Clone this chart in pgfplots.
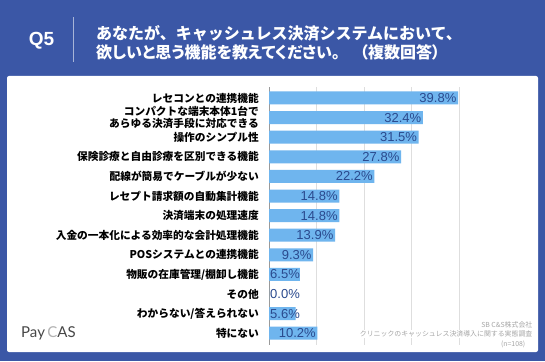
\documentclass[border=0pt]{standalone}
\usepackage{pgfplots}
\usepackage{pgfplotstable}
\pgfplotsset{compat=1.18}
\usepackage{fontspec}
\setmainfont{Liberation Sans}
\newfontfamily\jp{Noto Sans CJK JP}
\newfontfamily\jpp{Noto Sans CJK JP}[RawFeature=+palt]
\newfontfamily\logo{Lato}
\definecolor{bgblue}{HTML}{3B57A6}
\definecolor{barblue}{HTML}{6FB5EE}
\definecolor{lblblue}{HTML}{2A4A8E}
\definecolor{gridgray}{HTML}{DEDEDE}
\definecolor{axgray}{HTML}{9A9A9A}

\pgfplotstableread{
y x
0 39.8
1 32.4
2 31.5
3 27.8
4 22.2
5 14.8
6 14.8
7 13.9
8 9.3
9 6.5
10 0.0
11 5.6
12 10.2
}\datatable

\begin{document}
\begin{tikzpicture}[x=1pt,y=1pt]
\fill[bgblue] (0,0) rectangle (545,361);
\fill[white, rounded corners=2pt] (7,9) rectangle (538,285);
% header
\node[anchor=center, text=white, font=\bfseries\fontsize{19}{22}\selectfont] at (41.5,320) {Q5};
\draw[white!55!bgblue, line width=0.8pt] (73,299) -- (73,344);
\node[anchor=base west, text=white, inner sep=0pt, font=\jp\bfseries\fontsize{16}{19}\selectfont] at (96,321) {あなたが、キャッシュレス決済システムにおいて、};
\node[anchor=base west, text=white, inner sep=0pt, font=\jpp\bfseries\fontsize{16}{19}\selectfont] at (96,302) {欲しいと思う機能を教えてください。\hspace{1.25em}（複数回答）};

\begin{axis}[
  at={(269pt,16pt)}, anchor=south west,
  scale only axis, width=190pt, height=258pt,
  xmin=0, xmax=40, ymin=-0.56, ymax=12.6, y dir=reverse,
  axis line style={draw=none}, tick style={draw=none},
  major tick length=0pt,
  xtick={10,20,30,40}, xticklabels={}, xmajorgrids,
  grid style={gridgray, line width=0.6pt},
  extra x ticks={0}, extra x tick labels={},
  extra x tick style={grid style={axgray, line width=0.8pt}},
  ytick={0,...,12},
  yticklabels={{レセコンとの連携機能},{コンパクトな端末本体1台で\\あらゆる決済手段に対応できる},{操作のシンプル性},{保険診療と自由診療を区別できる機能},{配線が簡易でケーブルが少ない},{レセプト請求額の自動集計機能},{決済端末の処理速度},{入金の一本化による効率的な会計処理機能},{POSシステムとの連携機能},{物販の在庫管理/棚卸し機能},{その他},{わからない/答えられない},{特にない}},
  yticklabel style={align=right, inner sep=0pt, xshift=-10pt, font=\jp\bfseries\fontsize{10.7}{11.5}\selectfont},
  clip=false,
]
\addplot[xbar, fill=barblue, draw=none, bar width=13pt] table[x=x, y=y] {\datatable};
\addplot[only marks, mark=none, nodes near coords, point meta=explicit symbolic,
  every node near coord/.style={anchor=east, inner sep=0pt, xshift=-1.5pt, text=lblblue, font=\fontsize{13}{13}\selectfont}]
  coordinates {(39.8,0)[39.8\%] (32.4,1)[32.4\%] (31.5,2)[31.5\%] (27.8,3)[27.8\%] (22.2,4)[22.2\%] (14.8,5)[14.8\%] (14.8,6)[14.8\%] (13.9,7)[13.9\%] (9.3,8)[9.3\%] (10.2,12)[10.2\%]};
\addplot[only marks, mark=none, nodes near coords, point meta=explicit symbolic,
  every node near coord/.style={anchor=west, inner sep=0pt, xshift=1pt, text=lblblue, font=\fontsize{13}{13}\selectfont}]
  coordinates {(0,9)[6.5\%] (0,10)[0.0\%] (0,11)[5.6\%]};
\end{axis}

% footnote
\node[anchor=east, inner sep=0.5pt, text=gray!70, font=\jp\fontsize{6.9}{7}\selectfont] at (533,36) {SB C\&S株式会社};
\node[anchor=east, fill=white, inner sep=0.5pt, text=gray!70, font=\jp\fontsize{6.9}{7}\selectfont] at (533,27) {クリニックのキャッシュレス決済導入に関する実態調査};
\node[anchor=east, inner sep=0.5pt, text=gray!70, font=\jp\fontsize{6.9}{7}\selectfont] at (526,17) {(n=108)};
% logo
\node[anchor=west, inner sep=0pt, text=black!72, font=\logo\fontsize{15}{15}\selectfont] at (21,28) {Pay\,{\color{black!30}C}AS};
\end{tikzpicture}
\end{document}
